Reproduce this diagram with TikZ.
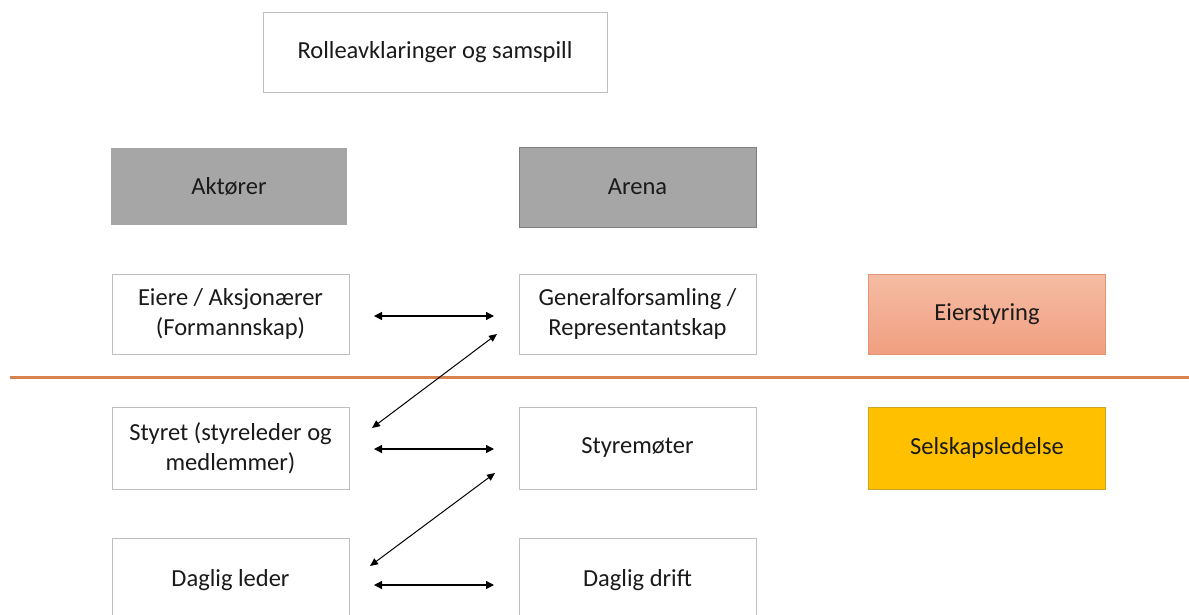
\documentclass[tikz,border=0pt]{standalone}
\usepackage{fontspec}
\setmainfont{Carlito}
\usetikzlibrary{arrows.meta}
\definecolor{boxline}{HTML}{BFBFBF}
\definecolor{grayfill}{HTML}{A6A6A6}
\definecolor{graybord}{HTML}{7F7F7F}
\definecolor{salmtop}{HTML}{F5BCA4}
\definecolor{salmbot}{HTML}{F19F80}
\definecolor{salmbord}{HTML}{E29473}
\definecolor{goldfill}{HTML}{FFC000}
\definecolor{goldbord}{HTML}{C9A227}
\definecolor{sepline}{HTML}{D8834E}
\definecolor{txt}{HTML}{1A1A1A}
\tikzset{
  plainbox/.style={draw=boxline, line width=1pt, fill=white, minimum width=237pt, minimum height=80pt, align=center, font=\fontsize{24.5}{30}\selectfont, text=txt, inner sep=0pt},
  graybox/.style={plainbox, fill=grayfill, draw=grayfill},
  arrowline/.style={{Triangle[length=8pt,width=8pt]}-{Triangle[length=8pt,width=8pt]}, line width=1.3pt, black},
  diagline/.style={{Triangle[length=8pt,width=7pt]}-{Triangle[length=8pt,width=7pt]}, line width=1pt, black},
}
\begin{document}
\begin{tikzpicture}[x=1pt,y=-1pt]
\useasboundingbox (0,0) rectangle (1189,614);
\clip (0,0) rectangle (1189,614);
\fill[white] (0,0) rectangle (1189,614);
\node[plainbox, minimum width=344pt] (title) at (435,52) {Rolleavklaringer og samspill};
\node[graybox, minimum width=235pt, minimum height=76pt] (akt) at (229,186) {Aktører};
\node[graybox, draw=graybord] (arena) at (637.5,187) {Arena};
\node[plainbox] (eiere) at (230.5,314) {Eiere / Aksjonærer\\(Formannskap)};
\node[plainbox] (gen) at (637.5,314) {Generalforsamling /\\Representantskap};
\node[plainbox, draw=salmbord, top color=salmtop, bottom color=salmbot] (eier) at (987,314) {Eierstyring};
\draw[sepline, line width=3pt] (10,377) coordinate (sepL) -- (1189,377) coordinate (sepR);
\node[plainbox, minimum height=82pt] (styret) at (230.5,448) {Styret (styreleder og\\medlemmer)};
\node[plainbox, minimum height=82pt] (mote) at (637.5,448) {Styremøter};
\node[plainbox, minimum height=82pt, fill=goldfill, draw=goldbord] (selsk) at (987,448) {Selskapsledelse};
\node[plainbox, minimum height=84pt] (dl) at (230.5,580) {Daglig leder};
\node[plainbox, minimum height=84pt] (dd) at (637.5,580) {Daglig drift};
\coordinate (a1s) at (374,316); \coordinate (a1e) at (494,316);
\coordinate (d1s) at (372,428); \coordinate (d1e) at (497,334);
\coordinate (a2s) at (374,449); \coordinate (a2e) at (494,449);
\coordinate (d2s) at (370,566); \coordinate (d2e) at (495,473);
\coordinate (a3s) at (374,585); \coordinate (a3e) at (494,585);
\draw[arrowline] (a1s) -- (a1e);
\draw[diagline] (d1s) -- (d1e);
\draw[arrowline] (a2s) -- (a2e);
\draw[diagline] (d2s) -- (d2e);
\draw[arrowline] (a3s) -- (a3e);
\end{tikzpicture}
\end{document}
